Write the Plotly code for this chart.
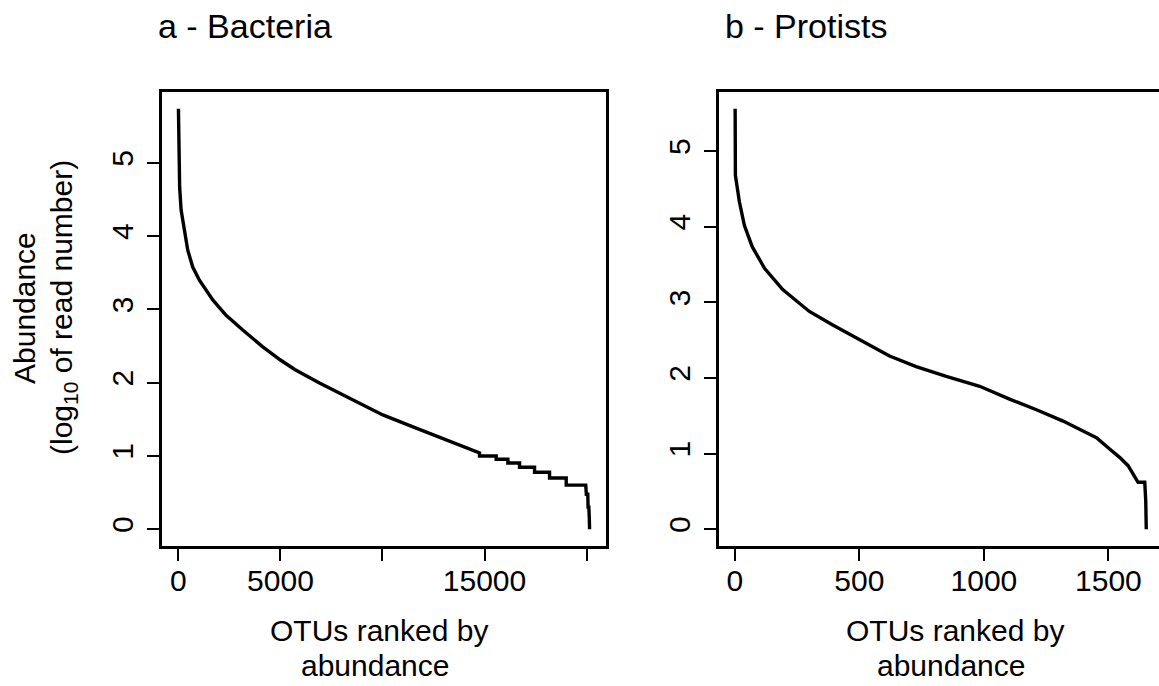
import plotly.graph_objects as go

# ---- data: OTU rank vs log10(read number) -------------------------------
bact_rank = [1, 20, 60, 130, 294, 457, 701, 1029, 1683, 2337, 3152, 4133,
             5000, 5700, 6912, 8382, 10016, 11650, 13284, 14101, 14755,
             14755, 15572, 15572, 16144, 16144, 16716, 16716, 17451, 17451,
             18186, 18186, 19003, 19003, 19960, 19990, 20060, 20075, 20113,
             20135, 20147]
bact_log_abund = [5.74, 5.00, 4.67, 4.36, 4.08, 3.81, 3.58, 3.40, 3.13, 2.92,
                  2.72, 2.49, 2.31, 2.18, 1.995, 1.79, 1.56, 1.38, 1.20, 1.11,
                  1.041, 1.000, 1.000, 0.954, 0.954, 0.903, 0.903, 0.845,
                  0.845, 0.778, 0.778, 0.699, 0.699, 0.602, 0.602, 0.477,
                  0.477, 0.301, 0.301, 0.15, 0.0]

prot_rank = [1, 2, 18, 38, 69, 119, 192, 299, 393, 514, 621, 728, 849, 983,
             1103, 1211, 1318, 1398, 1452, 1505, 1545, 1579, 1606, 1619,
             1646, 1650, 1652]
prot_log_abund = [5.56, 4.68, 4.33, 4.02, 3.74, 3.45, 3.17, 2.88, 2.70, 2.48,
                  2.29, 2.15, 2.02, 1.89, 1.72, 1.58, 1.43, 1.30, 1.21, 1.06,
                  0.95, 0.84, 0.70, 0.62, 0.62, 0.37, 0.0]

# labelled ticks, plus unlabelled ticks where labels would collide
bact_xticks = [0, 5000, 15000]
bact_xticklabels = ["0", "5000", "15000"]
bact_xticks_unlabelled = [10000, 20000]
prot_xticks = [0, 500, 1000, 1500]
prot_xticklabels = ["0", "500", "1000", "1500"]
yticks = [0, 1, 2, 3, 4, 5]

panel_titles = ["a - Bacteria", "b - Protists"]
x_title_lines = ["OTUs ranked by", "abundance"]
y_title_lines = ["Abundance", "(log<sub>10</sub> of read number)"]

# ---- page geometry (pixels) ---------------------------------------------
W, H = 1159, 686
FONT = "Liberation Sans, Arial, Helvetica, sans-serif"
FS = 30          # axis text
FS_MAIN = 34     # panel titles
PLOT_TOP, PLOT_BOTTOM = 92, 546
PANEL_W = 444
A_LEFT = 162
B_LEFT = 718.7
TICK_LEN = 12


def px_x(p):
    return p / W


def px_y(p):
    return 1 - p / H


def padded(vals):
    lo, hi = min(vals), max(vals)
    pad = 0.04 * (hi - lo)
    return lo - pad, hi + pad


ax_lo, ax_hi = padded(bact_rank)
ay_lo, ay_hi = padded(bact_log_abund)
bx_lo, bx_hi = padded(prot_rank)
by_lo, by_hi = padded(prot_log_abund)

# panel b runs past the right edge of the page: keep its scale, clip its view
b_visible = W - B_LEFT
bx_hi_vis = bx_lo + (bx_hi - bx_lo) * b_visible / PANEL_W

line_style = dict(color="black", width=3.4)

fig = go.Figure()
fig.add_trace(go.Scatter(x=bact_rank, y=bact_log_abund, mode="lines",
                         line=line_style, xaxis="x", yaxis="y",
                         showlegend=False, hoverinfo="skip"))
fig.add_trace(go.Scatter(x=prot_rank, y=prot_log_abund, mode="lines",
                         line=line_style, xaxis="x2", yaxis="y2",
                         showlegend=False, hoverinfo="skip"))

axis_common = dict(showgrid=False, zeroline=False, showline=True,
                   linecolor="black", linewidth=3, ticks="outside",
                   ticklen=TICK_LEN, tickwidth=1.5, tickcolor="black",
                   tickfont=dict(family=FONT, size=FS, color="black"),
                   fixedrange=True)

y_dom = [px_y(PLOT_BOTTOM), px_y(PLOT_TOP)]

fig.update_layout(
    width=W, height=H, autosize=False,
    margin=dict(l=0, r=0, t=0, b=0),
    paper_bgcolor="white", plot_bgcolor="white",
    xaxis=dict(axis_common, domain=[px_x(A_LEFT), px_x(A_LEFT + PANEL_W)],
               range=[ax_lo, ax_hi], tickvals=bact_xticks,
               ticktext=bact_xticklabels, mirror=True, anchor="y",
               ticklabelstandoff=-6,
               minor=dict(tickmode="array", tickvals=bact_xticks_unlabelled,
                          ticks="outside", ticklen=TICK_LEN, tickwidth=1.5,
                          tickcolor="black", showgrid=False)),
    yaxis=dict(axis_common, domain=y_dom, range=[ay_lo, ay_hi],
               tickvals=yticks, tickangle=-90, mirror=True, anchor="x",
               ticklabelstandoff=2),
    xaxis2=dict(axis_common, domain=[px_x(B_LEFT), 1.0],
                range=[bx_lo, bx_hi_vis], tickvals=prot_xticks,
                ticktext=prot_xticklabels, mirror=True, anchor="y2",
                ticklabelstandoff=-6),
    yaxis2=dict(axis_common, domain=y_dom, range=[by_lo, by_hi],
                tickvals=yticks, tickangle=-90, mirror=False, anchor="x2",
                ticklabelstandoff=2),
)

main_font = dict(family=FONT, size=FS_MAIN, color="black")
ann_font = dict(family=FONT, size=FS, color="black")
annotations = [
    dict(text=panel_titles[0], x=px_x(156), y=px_y(26), xanchor="left",
         yanchor="middle", font=main_font),
    dict(text=panel_titles[1], x=px_x(723), y=px_y(26), xanchor="left",
         yanchor="middle", font=main_font),
]
for cx in (379, 955):
    annotations.append(dict(text=x_title_lines[0], x=px_x(cx), y=px_y(630),
                            xanchor="center", yanchor="middle"))
    annotations.append(dict(text=x_title_lines[1], x=px_x(cx - 4),
                            y=px_y(665), xanchor="center", yanchor="middle"))
annotations.append(dict(text=y_title_lines[0], x=px_x(24), y=px_y(308),
                        xanchor="center", yanchor="middle", textangle=-90))
annotations.append(dict(text=y_title_lines[1], x=px_x(63), y=px_y(308),
                        xanchor="center", yanchor="middle", textangle=-90))
for a in annotations:
    a.update(xref="paper", yref="paper", showarrow=False)
    a.setdefault("font", ann_font)
fig.update_layout(annotations=annotations)

fig.write_html("out.html")
